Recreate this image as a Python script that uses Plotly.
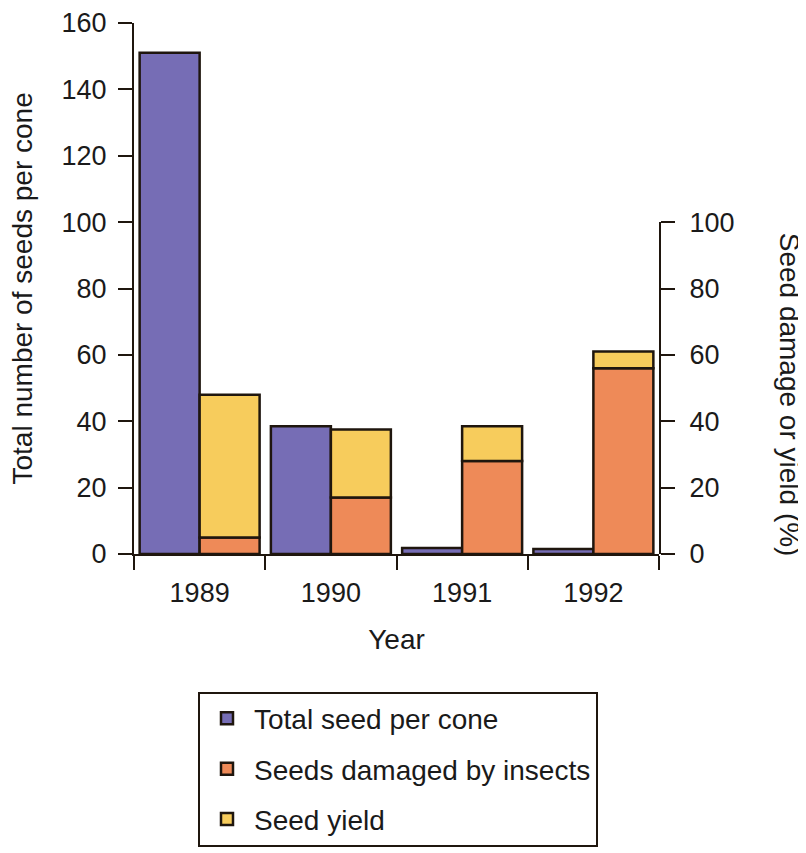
import plotly.graph_objects as go

years = ["1989", "1990", "1991", "1992"]
total_seeds = [151, 38.5, 1.8, 1.5]          # seeds per cone (left axis)
damaged_pct = [5, 17, 28, 56]                # % damaged by insects (right axis)
yield_pct = [43, 20.5, 10.5, 5]              # % seed yield, stacked on damage
left_ticks = [0, 20, 40, 60, 80, 100, 120, 140, 160]
right_ticks = [0, 20, 40, 60, 80, 100]

PURPLE = "#766db5"
ORANGE = "#ee8a58"
YELLOW = "#f7cc5c"
EDGE = "#1f160e"
INK = "#1a1a1a"
FONT = "Liberation Sans, Arial, Helvetica, sans-serif"

fig = go.Figure()
fig.add_bar(x=years, y=total_seeds, name="Total seed per cone", yaxis="y",
            offsetgroup="total", alignmentgroup="g", legendgroup="a",
            marker=dict(color=PURPLE, line=dict(color=EDGE, width=2.5)))
fig.add_bar(x=years, y=damaged_pct, name="Seeds damaged by insects", yaxis="y2",
            offsetgroup="pct", alignmentgroup="g", legendgroup="b",
            marker=dict(color=ORANGE, line=dict(color=EDGE, width=2.5)))
fig.add_bar(x=years, y=yield_pct, base=damaged_pct, name="Seed yield", yaxis="y2",
            offsetgroup="pct", alignmentgroup="g", legendgroup="c",
            marker=dict(color=YELLOW, line=dict(color=EDGE, width=2.5)))

axis_common = dict(showgrid=False, zeroline=False, showline=True, linecolor=EDGE,
                   linewidth=2, ticks="outside", tickcolor=EDGE, tickwidth=2,
                   automargin=False, ticklabeloverflow="allow",
                   tickfont=dict(size=27, color=INK, family=FONT))

# page body adds an 8px offset, so the figure is sized to fit the window
fig.update_layout(
    width=798, height=845,
    margin=dict(l=126, r=147, t=15, b=299, autoexpand=False),
    paper_bgcolor="white", plot_bgcolor="rgba(0,0,0,0)",
    font=dict(family=FONT, color=INK, size=28),
    barmode="group", bargap=0.086, bargroupgap=0,
    xaxis=dict(type="category", tickson="boundaries", ticklen=14,
               ticklabelstandoff=14, tickangle=0,
               title=dict(text="Year", font=dict(size=28), standoff=22),
               **axis_common),
    yaxis=dict(range=[0, 160], tickvals=left_ticks, ticklen=14,
               ticklabelstandoff=6, **axis_common),
    yaxis2=dict(domain=[0, 100 / 160], range=[0, 100], tickvals=right_ticks,
                anchor="x", side="right", ticklen=14, ticklabelstandoff=9,
                **axis_common),
    annotations=[
        dict(text="Total number of seeds per cone", xref="paper", yref="paper",
             x=-0.2133, y=0.5, textangle=-90, showarrow=False,
             xanchor="center", yanchor="middle", font=dict(size=28, color=INK)),
        dict(text="Seed damage or yield (%)", xref="paper", yref="paper",
             x=1.2476, y=0.30, textangle=90, showarrow=False,
             xanchor="center", yanchor="middle", font=dict(size=28, color=INK)),
    ],
    showlegend=True,
    legend=dict(x=0.1219, y=-0.259, xanchor="left", yanchor="top",
                bordercolor=EDGE, borderwidth=2, bgcolor="white",
                font=dict(size=28, color=INK, family=FONT),
                tracegroupgap=11, traceorder="grouped", itemwidth=44),
)

fig.write_html("out.html")
